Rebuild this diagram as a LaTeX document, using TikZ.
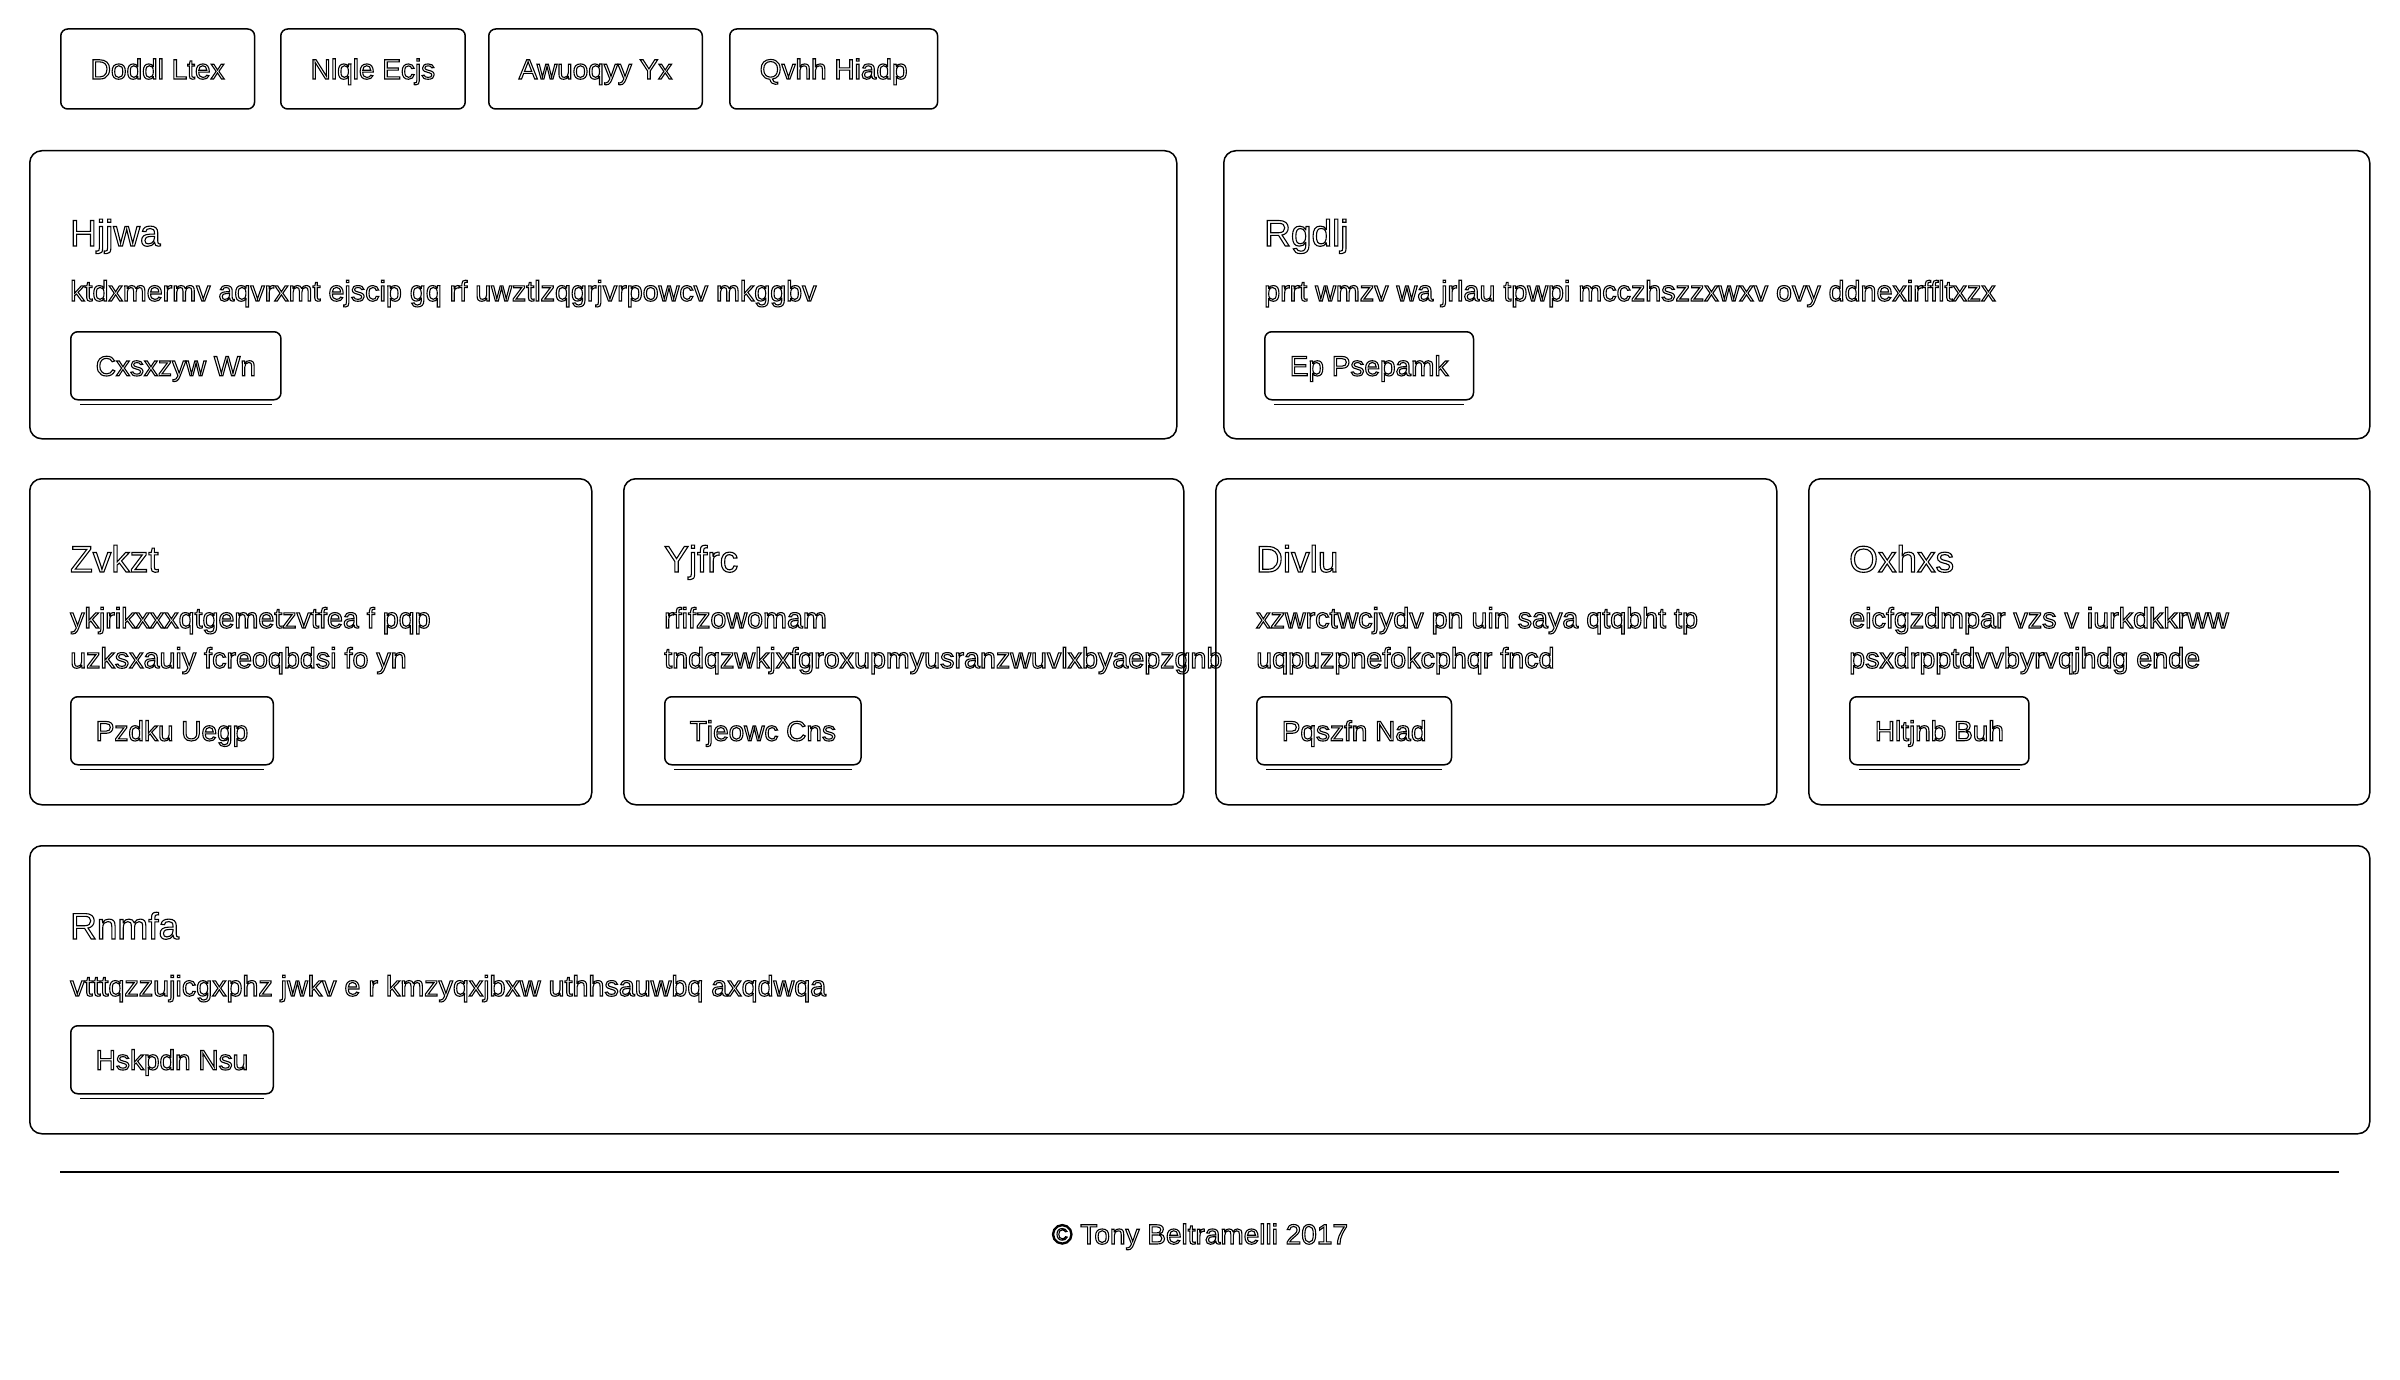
\documentclass[tikz,border=0pt]{standalone}
\usepackage{fontspec}
\setmainfont{Liberation Sans}
\newcommand{\ot}[1]{\special{pdf:literal direct 1 Tr 1.1 w}#1\special{pdf:literal direct 0 Tr}}
\begin{document}
\begin{tikzpicture}[x=1pt,y=-1pt,
  card/.style={draw=black, line width=1.5pt, rounded corners=12pt, anchor=north west, inner sep=0pt},
  navbtn/.style={draw=black, line width=1.5pt, rounded corners=7pt, inner xsep=30pt, inner ysep=0pt, minimum height=80pt, text height=21pt, text depth=1pt, font=\fontsize{28}{34}\selectfont, anchor=west},
  cardbtn/.style={draw=black, line width=1.5pt, rounded corners=7pt, inner xsep=25pt, inner ysep=0pt, minimum height=68pt, text height=21pt, text depth=1pt, font=\fontsize{28}{34}\selectfont, anchor=north west},
  ttl/.style={anchor=base west, inner sep=0pt, font=\fontsize{37}{40}\selectfont},
  bodytxt/.style={anchor=base west, inner sep=0pt, font=\fontsize{28.7}{40}\selectfont},
  shadowline/.style={line width=1.5pt},
  footer/.style={anchor=base, inner sep=0pt, font=\fontsize{28}{32}\selectfont}
]
\useasboundingbox (0,0) rectangle (2400,1380);
\fill[white] (0,0) rectangle (2400,1380);

% nav buttons
\node[navbtn] (n1) at (60,69) {\ot{Doddl Ltex}};
\node[navbtn] (n2) at (280,69) {\ot{Nlqle Ecjs}};
\node[navbtn] (n3) at (488,69) {\ot{Awuoqyy Yx}};
\node[navbtn] (n4) at (729,69) {\ot{Qvhh Hiadp}};

% row 1
\node[card, minimum width=1147pt, minimum height=288pt] (cA) at (29,150) {};
\node[ttl] (tA) at (70,246) {\ot{Hjjwa}};
\node[bodytxt] (bA) at (70,301) {\ot{ktdxmermv aqvrxmt ejscip gq rf uwztlzqgrjvrpowcv mkggbv}};
\node[cardbtn] (kA) at (70,331) {\ot{Cxsxzyw Wn}};

\node[card, minimum width=1146pt, minimum height=288pt] (cB) at (1223,150) {};
\node[ttl] (tB) at (1264,246) {\ot{Rgdlj}};
\node[bodytxt] (bB) at (1264,301) {\ot{prrt wmzv wa jrlau tpwpi mcczhszzxwxv ovy ddnexirffltxzx}};
\node[cardbtn] (kB) at (1264,331) {\ot{Ep Psepamk}};

% row 2
\node[card, minimum width=562pt, minimum height=326pt] (c1) at (29,478) {};
\node[ttl] (t1) at (70,572) {\ot{Zvkzt}};
\node[bodytxt] (b1a) at (70,628) {\ot{ykjrikxxxqtgemetzvtfea f pqp}};
\node[bodytxt] (b1b) at (70,668) {\ot{uzksxauiy fcreoqbdsi fo yn}};
\node[cardbtn] (k1) at (70,696) {\ot{Pzdku Uegp}};

\node[card, minimum width=560pt, minimum height=326pt] (c2) at (623,478) {};
\node[ttl] (t2) at (664,572) {\ot{Yjfrc}};
\node[bodytxt] (b2a) at (664,628) {\ot{rfifzowomam}};
\node[bodytxt] (b2b) at (664,668) {\ot{tndqzwkjxfgroxupmyusranzwuvlxbyaepzgnb}};
\node[cardbtn] (k2) at (664,696) {\ot{Tjeowc Cns}};

\node[card, minimum width=561pt, minimum height=326pt] (c3) at (1215,478) {};
\node[ttl] (t3) at (1256,572) {\ot{Divlu}};
\node[bodytxt] (b3a) at (1256,628) {\ot{xzwrctwcjydv pn uin saya qtqbht tp}};
\node[bodytxt] (b3b) at (1256,668) {\ot{uqpuzpnefokcphqr fncd}};
\node[cardbtn] (k3) at (1256,696) {\ot{Pqszfn Nad}};

\node[card, minimum width=561pt, minimum height=326pt] (c4) at (1808,478) {};
\node[ttl] (t4) at (1849,572) {\ot{Oxhxs}};
\node[bodytxt] (b4a) at (1849,628) {\ot{eicfgzdmpar vzs v iurkdkkrww}};
\node[bodytxt] (b4b) at (1849,668) {\ot{psxdrpptdvvbyrvqjhdg ende}};
\node[cardbtn] (k4) at (1849,696) {\ot{Hltjnb Buh}};

% row 3
\node[card, minimum width=2340pt, minimum height=288pt] (cR) at (29,845) {};
\node[ttl] (tR) at (70,939) {\ot{Rnmfa}};
\node[bodytxt] (bR) at (70,996) {\ot{vtttqzzujicgxphz jwkv e r kmzyqxjbxw uthhsauwbq axqdwqa}};
\node[cardbtn] (kR) at (70,1025) {\ot{Hskpdn Nsu}};

% button shadows
\foreach \b in {kA,kB,k1,k2,k3,k4,kR}{
  \draw[shadowline] ([xshift=10pt,yshift=-4pt]\b.south west) -- ([xshift=-10pt,yshift=-4pt]\b.south east);
}

% footer
\coordinate (hr1) at (60,1172);
\coordinate (hr2) at (2339,1172);
\draw[line width=1.5pt] (hr1) -- (hr2);
\node[footer] (ft) at (1200,1244) {\ot{© Tony Beltramelli 2017}};
\end{tikzpicture}
\end{document}
